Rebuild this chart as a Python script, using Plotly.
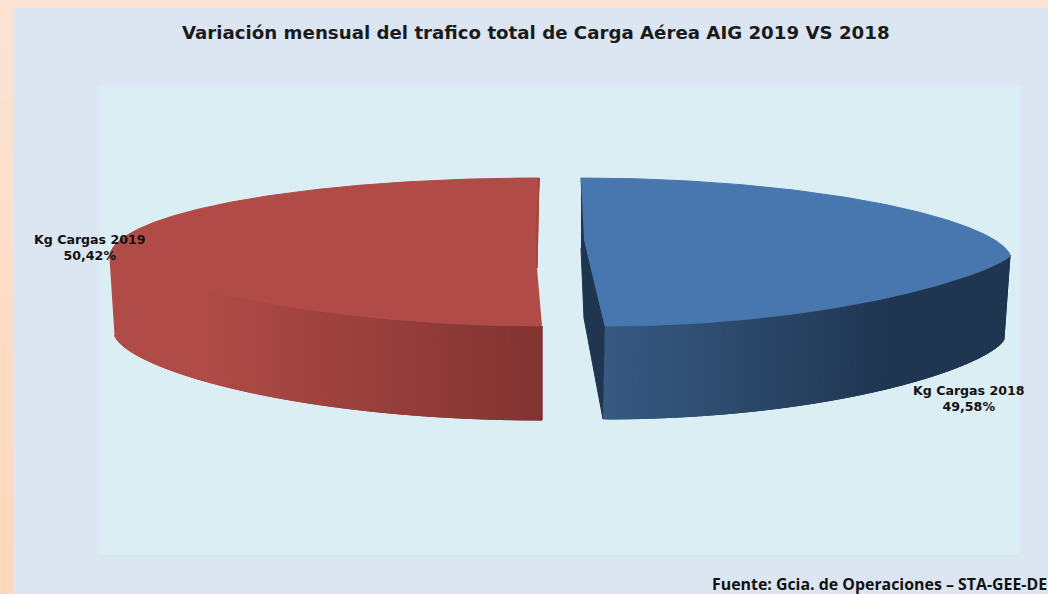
import numpy as np
import plotly.graph_objects as go

W, H = 1048, 594
TITLE = "Variación mensual del trafico total de Carga Aérea AIG 2019 VS 2018"
SOURCE = "Fuente: Gcia. de Operaciones – STA-GEE-DE"
series_names = ["Kg Cargas 2018", "Kg Cargas 2019"]
series_values = [49.58, 50.42]
value_labels = ["49,58%", "50,42%"]

fig = go.Figure()

def poly(xs, ys, color):
    fig.add_trace(go.Scatter(x=list(xs), y=list(ys), mode="lines", fill="toself", fillcolor=color,
                             line=dict(color=color, width=1), hoverinfo="skip", showlegend=False))

def mix(a, b, t):
    return "rgb(%d,%d,%d)" % tuple(round(a[i] + (b[i] - a[i]) * t) for i in range(3))

def spow(c, p):
    return np.sign(c) * np.abs(c) ** p

def wall(xt, yt, xb, yb, shade):
    # xt must increase; strips are about 4 px wide and overlap the next one
    grid = np.arange(xt[0], xt[-1], 4.0)
    edges = np.unique(np.r_[np.searchsorted(xt, grid), len(xt) - 1])
    for k in range(len(edges) - 1):
        a = edges[k]
        c = edges[min(k + 2, len(edges) - 1)]
        poly(np.r_[xt[a:c + 1], xb[a:c + 1][::-1]], np.r_[yt[a:c + 1], yb[a:c + 1][::-1]], shade(xt[a]))

total = sum(series_values)
sweep = [v / total * 2 * np.pi for v in series_values]
N = 900

# ---- 2018 slice: clockwise from 12 o'clock, to the right of the gap
tb = np.linspace(0, sweep[0], N)
ub = tb / sweep[0] * np.pi
def blue_top(u):
    c = np.cos(u)
    x = 593 - 12 * c + 417 * np.sin(u)
    y = np.where(c >= 0, 255 - 77 * np.abs(c) ** 1.15, 255 + 71 * np.abs(c) ** 1.6)
    return x, y
def blue_bot(u):
    c = np.cos(u)
    x = 593 - 10 * c + 411 * np.sin(u)
    y = 338 + 81 * spow(-c, 1.4)
    return x, y
bx, by = blue_top(ub)
bbx, bby = blue_bot(ub)
hub_b = (584, 238)
# inner cut face
poly([bx[0], hub_b[0], bx[-1], bbx[-1], hub_b[0], bx[0]],
     [by[0], hub_b[1], by[-1], bby[-1], 318, by[0] + 70], "#1f3550")
# outer wall
vis = ub >= np.pi / 2
wall(bx[vis][::-1], by[vis][::-1], bbx[vis][::-1], bby[vis][::-1],
     lambda x: mix((55, 90, 130), (31, 53, 80), np.clip((x - 605) / 290, 0, 1)))
poly(np.r_[bx, hub_b[0]], np.r_[by, hub_b[1]], "#4876ae")

# ---- 2019 slice: continues clockwise, to the left of the gap
tr = np.linspace(sweep[0], sweep[0] + sweep[1], N)
ur = (tr - sweep[0]) / sweep[1] * np.pi
def red_top(u):
    c = np.cos(u)
    x = 540.5 + 1.5 * c - 431 * np.sin(u)
    y = np.where(c >= 0, 258 + 68 * np.abs(c) ** 1.6, 258 - 80 * np.abs(c))
    return x, y
def red_bot(u):
    c = np.cos(u)
    x = 540.5 + 1.5 * c - 426 * np.sin(u)
    y = 335 + 85 * spow(c, 1.25)
    return x, y
rx, ry = red_top(ur)
rbx, rby = red_bot(ur)
hub_r = (537, 268)
vis = ur <= np.pi / 2
wall(rx[vis][::-1], ry[vis][::-1], rbx[vis][::-1], rby[vis][::-1],
     lambda x: mix((176, 75, 71), (129, 51, 49), np.clip((x - 200) / 342, 0, 1)))
poly(np.r_[rx, hub_r[0]], np.r_[ry, hub_r[1]], "#b14b47")
poly([rx[-1], hub_r[0], 536, rx[-1] + 0.5], [ry[-1], hub_r[1], 230, ry[-1]], "#a6443f")

ink = "#111111"
ann = [
    dict(x=536, y=32, text="<b>" + TITLE + "</b>", font=dict(family="DejaVu Sans", size=18.2, color="#1a1a1a")),
    dict(x=879, y=583.5, text="<b>" + SOURCE + "</b>", font=dict(family="Open Sans", size=15.9, color=ink)),
    dict(x=90, y=247, text="<b>" + series_names[1] + "<br>" + value_labels[1] + "</b>",
         font=dict(family="DejaVu Sans", size=12.6, color=ink)),
    dict(x=969, y=398, text="<b>" + series_names[0] + "<br>" + value_labels[0] + "</b>",
         font=dict(family="DejaVu Sans", size=12.6, color=ink)),
]
for a in ann:
    a.update(xref="x", yref="y", showarrow=False, xanchor="center", yanchor="middle")

def band(x0, x1, y0, y1, color):
    return dict(type="rect", xref="x", yref="y", x0=x0, x1=x1, y0=y0, y1=y1,
                fillcolor=color, line_width=0, layer="below")

shapes = [band(0, W, 0, H, "#fde3d3")]
for k in range(12):
    y0 = k * H / 12
    shapes.append(band(0, 13, y0, y0 + H / 12 + 1, mix((253, 227, 211), (255, 216, 188), k / 11)))
shapes += [band(13, W, 8, H, "#dce6f2"), band(99, 1020, 86, 555, "#dbeef4")]

fig.update_layout(
    width=W, height=H, margin=dict(l=0, r=0, t=0, b=0), paper_bgcolor="#dce6f2", plot_bgcolor="rgba(0,0,0,0)",
    xaxis=dict(range=[0, W], visible=False, fixedrange=True),
    yaxis=dict(range=[H, 0], visible=False, fixedrange=True),
    annotations=ann, shapes=shapes, showlegend=False,
)
fig.write_html("out.html", config=dict(displayModeBar=False),
               post_script="document.body.style.margin='0';document.documentElement.style.overflow='hidden';")
